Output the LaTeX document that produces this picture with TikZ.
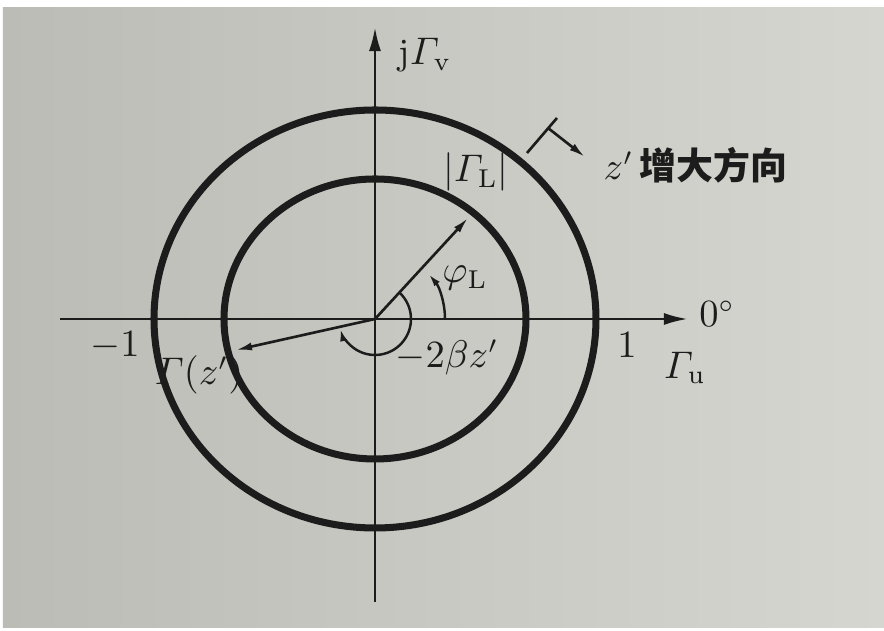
\documentclass[tikz,border=0pt]{standalone}
\usepackage{amsmath}
\usepackage{fontspec}
\newfontfamily\cjk{Noto Sans CJK SC}
\usetikzlibrary{arrows.meta}

\definecolor{ink}{RGB}{28,28,28}
\definecolor{paperL}{RGB}{188,188,182}
\definecolor{paperR}{RGB}{214,214,208}

\begin{document}
\begin{tikzpicture}[x=0.01cm,y=0.01cm,
    axis/.style={draw=ink,line width=0.8pt,-{Latex[length=0.24cm,width=0.12cm]}},
    vec/.style={draw=ink,line width=0.75pt,-{Latex[length=0.16cm,width=0.08cm]}},
    turn/.style={draw=ink,line width=0.7pt,-{Latex[length=0.13cm,width=0.07cm]}},
    ring/.style={draw=ink,line width=2pt},
    lbl/.style={inner sep=0pt,text=ink,font=\fontsize{10.5}{12}\selectfont}]

      % paper
      \useasboundingbox (-375,-312) rectangle (509,319);
      \fill[white] (-375,-312) rectangle (509,319);
      \shade[left color=paperL,right color=paperR] (-372,-309) rectangle (509,311);

      \coordinate (O)   at (0,0);
      \coordinate (xL)  at (-315,0);
      \coordinate (xR)  at (313,0);
      \coordinate (yB)  at (0,-283);
      \coordinate (yT)  at (0,292);
      \coordinate (GL)  at (93,101);
      \coordinate (Gz)  at (-139,-31);
      \coordinate (tA)  at (152,166);
      \coordinate (tB)  at (182,201);
      \coordinate (tC)  at (173,191);
      \coordinate (tD)  at (210,162);

      % circles and axes
      \draw[ring] (O) ellipse [x radius=221, y radius=209];
      \draw[ring] (O) ellipse [x radius=151, y radius=140];
      \path[axis] (xL) -- (xR);
      \path[axis] (yB) -- (yT);

      % reflection vectors
      \path[vec] (O) -- (GL);
      \path[vec] (O) -- (Gz);
      \draw[turn] (70,0) arc [start angle=0, end angle=40, radius=70];
      \draw[turn] (48:36) arc [start angle=48, end angle=-165, radius=36];

      % direction of increasing z'
      \draw[ink,line width=0.75pt] (tA) -- (tB);
      \path[vec] (tC) -- (tD);

      \begin{scope}[every node/.style={lbl}]
        \node (jGv)   at (50,264)   {$\mathrm{j}\varGamma_{\mathrm{v}}$};
        \node (absGL) at (101,147)  {$|\varGamma_{\mathrm{L}}|$};
        \node (phiL)  at (90,41)    {$\varphi_{\mathrm{L}}$};
        \node (beta)  at (72,-38)   {$-2\beta z'$};
        \node (m1)    at (-260,-27) {$-1$};
        \node (Gzl)   at (-176,-56) {$\varGamma(z')$};
        \node (p1)    at (252,-26)  {$1$};
        \node (deg)   at (342,5)    {$0^{\circ}$};
        \node (Gu)    at (310,-49)  {$\varGamma_{\mathrm{u}}$};
        \node[anchor=west] (zdir) at (228,154) {$z'$\,{\cjk\bfseries 增大方向}};
      \end{scope}

    \end{tikzpicture}
\end{document}
